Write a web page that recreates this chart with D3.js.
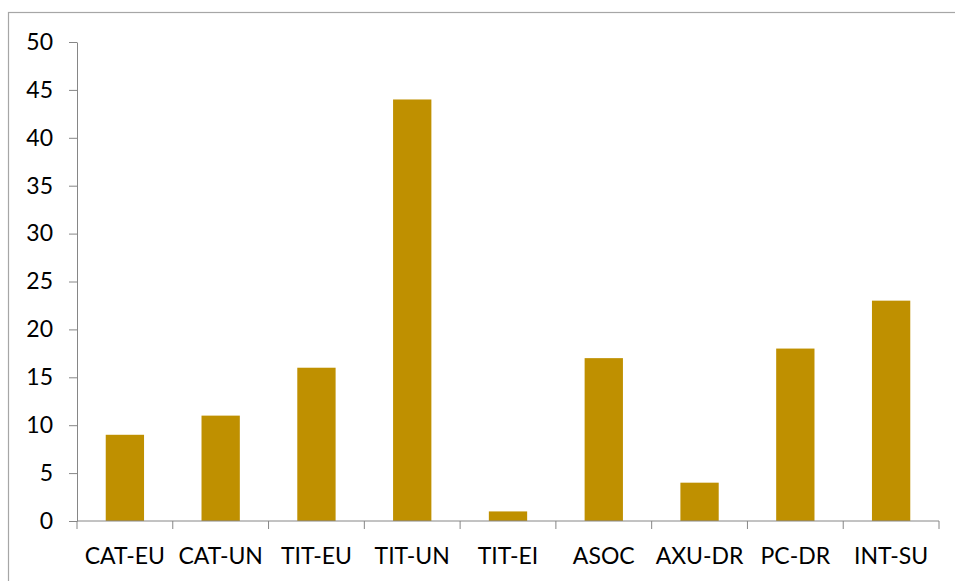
<!DOCTYPE html>
<html><head><meta charset="utf-8">
<script src="https://cdn.jsdelivr.net/npm/d3@7"></script>
<style>body{margin:0;background:#fff}svg{display:block}</style>
</head><body><svg id="c" width="955" height="581"></svg>
<script>
const categories = ["CAT-EU","CAT-UN","TIT-EU","TIT-UN","TIT-EI","ASOC","AXU-DR","PC-DR","INT-SU"];
const values = [9,11,16,44,1,17,4,18,23];
const yTicks = [0,5,10,15,20,25,30,35,40,45,50];

(function(){
const svg = d3.select("#c");
const pLeft = 77, pRight = 939, pTop = 42, pBottom = 521;
const font = "Lato, 'Open Sans', sans-serif";

// outer frame
svg.append("rect").attr("x",8.5).attr("y",12.5).attr("width",960).attr("height",580)
  .attr("fill","none").attr("stroke","#a6a6a6").attr("stroke-width",1.2);

const x = d3.scaleBand().domain(categories).range([pLeft,pRight]).paddingInner(0.6).paddingOuter(0.3);
const xb = d3.scaleBand().domain(categories).range([pLeft,pRight]);
const y = d3.scaleLinear().domain([0,50]).range([pBottom,pTop]);

// bars
svg.append("g").selectAll("rect").data(values).join("rect")
  .attr("x",(d,i)=>x(categories[i])).attr("width",x.bandwidth())
  .attr("y",d=>y(d)).attr("height",d=>y(0)-y(d)).attr("fill","#BF9000");

// y axis
const ya = svg.append("g").attr("transform",`translate(${pLeft},0)`)
  .call(d3.axisLeft(y).tickValues(yTicks).tickSize(8).tickPadding(16).tickSizeOuter(0));
ya.select(".domain").attr("stroke","#868686");
ya.selectAll(".tick line").attr("stroke","#868686");
ya.selectAll("text").attr("font-family",font).attr("font-size",23).attr("fill","#000");

// x axis: ticks at band boundaries
const xa = svg.append("g").attr("transform",`translate(0,${pBottom})`);
xa.append("line").attr("x1",pLeft).attr("x2",pRight).attr("stroke","#868686");
const bounds = categories.map(c=>xb(c)).concat([pRight]);
xa.selectAll("line.t").data(bounds).join("line").attr("class","t")
  .attr("x1",d=>d).attr("x2",d=>d).attr("y1",0).attr("y2",8).attr("stroke","#868686");
xa.selectAll("text").data(categories).join("text")
  .attr("x",d=>xb(d)+xb.bandwidth()/2).attr("y",43)
  .attr("text-anchor","middle").attr("font-family",font).attr("font-size",23).attr("fill","#000")
  .text(d=>d);
})();
</script></body></html>
